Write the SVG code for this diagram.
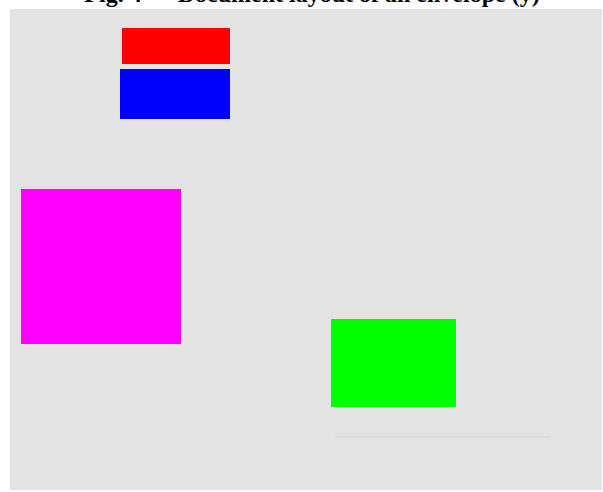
<svg xmlns="http://www.w3.org/2000/svg" width="603" height="492" viewBox="0 0 603 492">
<style>
.title{font-family:"Liberation Serif",serif;font-weight:bold;font-size:24px;fill:#000}
.blk{stroke:none}
</style>
<rect x="0" y="0" width="603" height="492" fill="#ffffff"/>
<rect x="10" y="9" width="592" height="481" fill="#e3e3e3"/>
<text class="title" x="312" y="2" text-anchor="middle">Fig. 4 — Document layout of an envelope (y)</text>
<g id="connectors">
<line x1="335" y1="437" x2="550" y2="437" stroke="#d4d4d4" stroke-width="1"/>
</g>
<g id="red-block"><rect class="blk" x="122" y="28" width="108" height="36" fill="#ff0000"/></g>
<g id="blue-block"><rect class="blk" x="120" y="69" width="110" height="50" fill="#0000ff"/></g>
<g id="magenta-block"><rect class="blk" x="21" y="189" width="160" height="155" fill="#ff00ff"/></g>
<g id="green-block"><rect class="blk" x="331" y="319" width="125" height="88" fill="#00ff00"/></g>
</svg>
